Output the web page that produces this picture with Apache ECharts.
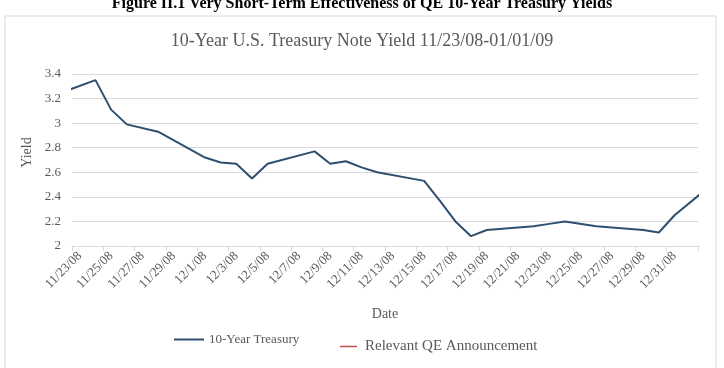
<!DOCTYPE html>
<html>
<head>
<meta charset="utf-8">
<script src="https://cdn.jsdelivr.net/npm/echarts@6/dist/echarts.min.js"></script>
<style>
  html, body { margin: 0; padding: 0; background: #fff; }
  #chart { width: 724px; height: 368px; }
</style>
</head>
<body>
<div id="chart"></div>
<script>
// calendar days on the x axis (one band per day)
const dayLabels = [
  '11/23/08', '11/24/08', '11/25/08', '11/26/08', '11/27/08', '11/28/08', '11/29/08', '11/30/08',
  '12/1/08', '12/2/08', '12/3/08', '12/4/08', '12/5/08', '12/6/08', '12/7/08', '12/8/08',
  '12/9/08', '12/10/08', '12/11/08', '12/12/08', '12/13/08', '12/14/08', '12/15/08', '12/16/08',
  '12/17/08', '12/18/08', '12/19/08', '12/20/08', '12/21/08', '12/22/08', '12/23/08', '12/24/08',
  '12/25/08', '12/26/08', '12/27/08', '12/28/08', '12/29/08', '12/30/08', '12/31/08', '1/1/09'
]
// trading days and 10-year yields (first / last fall just outside the axis)
const tradeDates = [
  '11/21/08', '11/24/08', '11/25/08', '11/26/08', '11/28/08',
  '12/1/08', '12/2/08', '12/3/08', '12/4/08', '12/5/08',
  '12/8/08', '12/9/08', '12/10/08', '12/11/08', '12/12/08',
  '12/15/08', '12/16/08', '12/17/08', '12/18/08', '12/19/08',
  '12/22/08', '12/23/08', '12/24/08', '12/26/08',
  '12/29/08', '12/30/08', '12/31/08', '1/2/09'
]
const yields = [
  3.21, 3.35, 3.11, 2.99, 2.93,
  2.72, 2.68, 2.67, 2.55, 2.67,
  2.77, 2.67, 2.69, 2.64, 2.60,
  2.53, 2.37, 2.20, 2.08, 2.13,
  2.16, 2.18, 2.20, 2.16,
  2.13, 2.11, 2.25, 2.46
]
// QE announcements inside the window (none fall on the plotted days)
const qeAnnouncements = []

const font = 'Liberation Serif'
const gray = '#595959'

const toTime = s => {
  const [m, d, y] = s.split('/').map(Number)
  return Date.UTC(2000 + y, m - 1, d)
}
const start = toTime(dayLabels[0])
// day offset from 11/23/08, placed at the middle of that day's band
const dayPos = s => (toTime(s) - start) / 86400000 + 0.5

const myChart = echarts.init(document.getElementById('chart'))
const options = {
  backgroundColor: '#fff',
  textStyle: { fontFamily: font },
  title: [
    {
      text: 'Figure II.1 Very Short-Term Effectiveness of QE 10-Year Treasury Yields',
      left: 'center',
      top: -9,
      textStyle: { fontFamily: font, fontSize: 16, fontWeight: 'bold', color: '#000' }
    },
    {
      text: '10-Year U.S. Treasury Note Yield 11/23/08-01/01/09',
      left: 'center',
      top: 27,
      textStyle: { fontFamily: font, fontSize: 18, fontWeight: 'normal', color: gray }
    }
  ],
  graphic: [
    {
      type: 'rect',
      silent: true,
      z: -10,
      shape: { x: 5, y: 16, width: 711, height: 360 },
      style: { fill: '#fff', stroke: '#d9d9d9', lineWidth: 1 }
    }
  ],
  legend: [
    {
      data: ['10-Year Treasury'],
      left: 169,
      top: 328,
      icon: 'rect',
      itemWidth: 30,
      itemHeight: 2,
      textStyle: { fontFamily: font, fontSize: 13, color: gray }
    },
    {
      data: ['Relevant QE Announcement'],
      left: 335,
      top: 334,
      icon: 'rect',
      itemWidth: 17,
      itemHeight: 1.5,
      textStyle: { fontFamily: font, fontSize: 15, color: gray, padding: [0, 0, 0, 3] }
    }
  ],
  grid: {
    left: 72,
    right: 26,
    top: 74,
    bottom: 122
  },
  xAxis: [
    {
      // day scale used by the line
      type: 'value',
      min: 0,
      max: dayLabels.length,
      interval: 2,
      axisLine: { lineStyle: { color: '#d9d9d9' } },
      axisTick: { show: true, length: 5, lineStyle: { color: '#d9d9d9' } },
      axisLabel: { show: false },
      splitLine: { show: false }
    },
    {
      // date labels
      type: 'category',
      position: 'bottom',
      data: dayLabels,
      boundaryGap: true,
      axisLine: { show: false },
      axisTick: { show: false },
      axisLabel: {
        interval: 1,
        rotate: 45,
        margin: 8,
        fontFamily: font,
        fontSize: 13,
        color: gray
      },
      name: 'Date',
      nameLocation: 'middle',
      nameGap: 61,
      nameTextStyle: { fontFamily: font, fontSize: 14, color: gray }
    }
  ],
  yAxis: {
    type: 'value',
    min: 2,
    max: 3.4,
    interval: 0.2,
    axisLine: { show: false },
    axisTick: { show: false },
    axisLabel: { margin: 11, fontFamily: font, fontSize: 13, color: gray },
    splitLine: { lineStyle: { color: '#d9d9d9' } },
    name: 'Yield',
    nameLocation: 'middle',
    nameGap: 28,
    nameTextStyle: { fontFamily: font, fontSize: 14, color: gray, padding: [0, 0, 0, 15] }
  },
  series: [
    {
      name: '10-Year Treasury',
      type: 'line',
      xAxisIndex: 0,
      symbol: 'none',
      clip: true,
      lineStyle: { width: 2, color: '#2f4f70' },
      itemStyle: { color: '#2f4f70' },
      data: tradeDates.map((d, i) => [dayPos(d), yields[i]])
    },
    {
      name: 'Relevant QE Announcement',
      type: 'line',
      xAxisIndex: 0,
      symbol: 'none',
      lineStyle: { width: 1.5, color: '#c0504d' },
      itemStyle: { color: '#c0504d' },
      data: qeAnnouncements
    }
  ]
}
myChart.setOption(options)
</script>
</body>
</html>
